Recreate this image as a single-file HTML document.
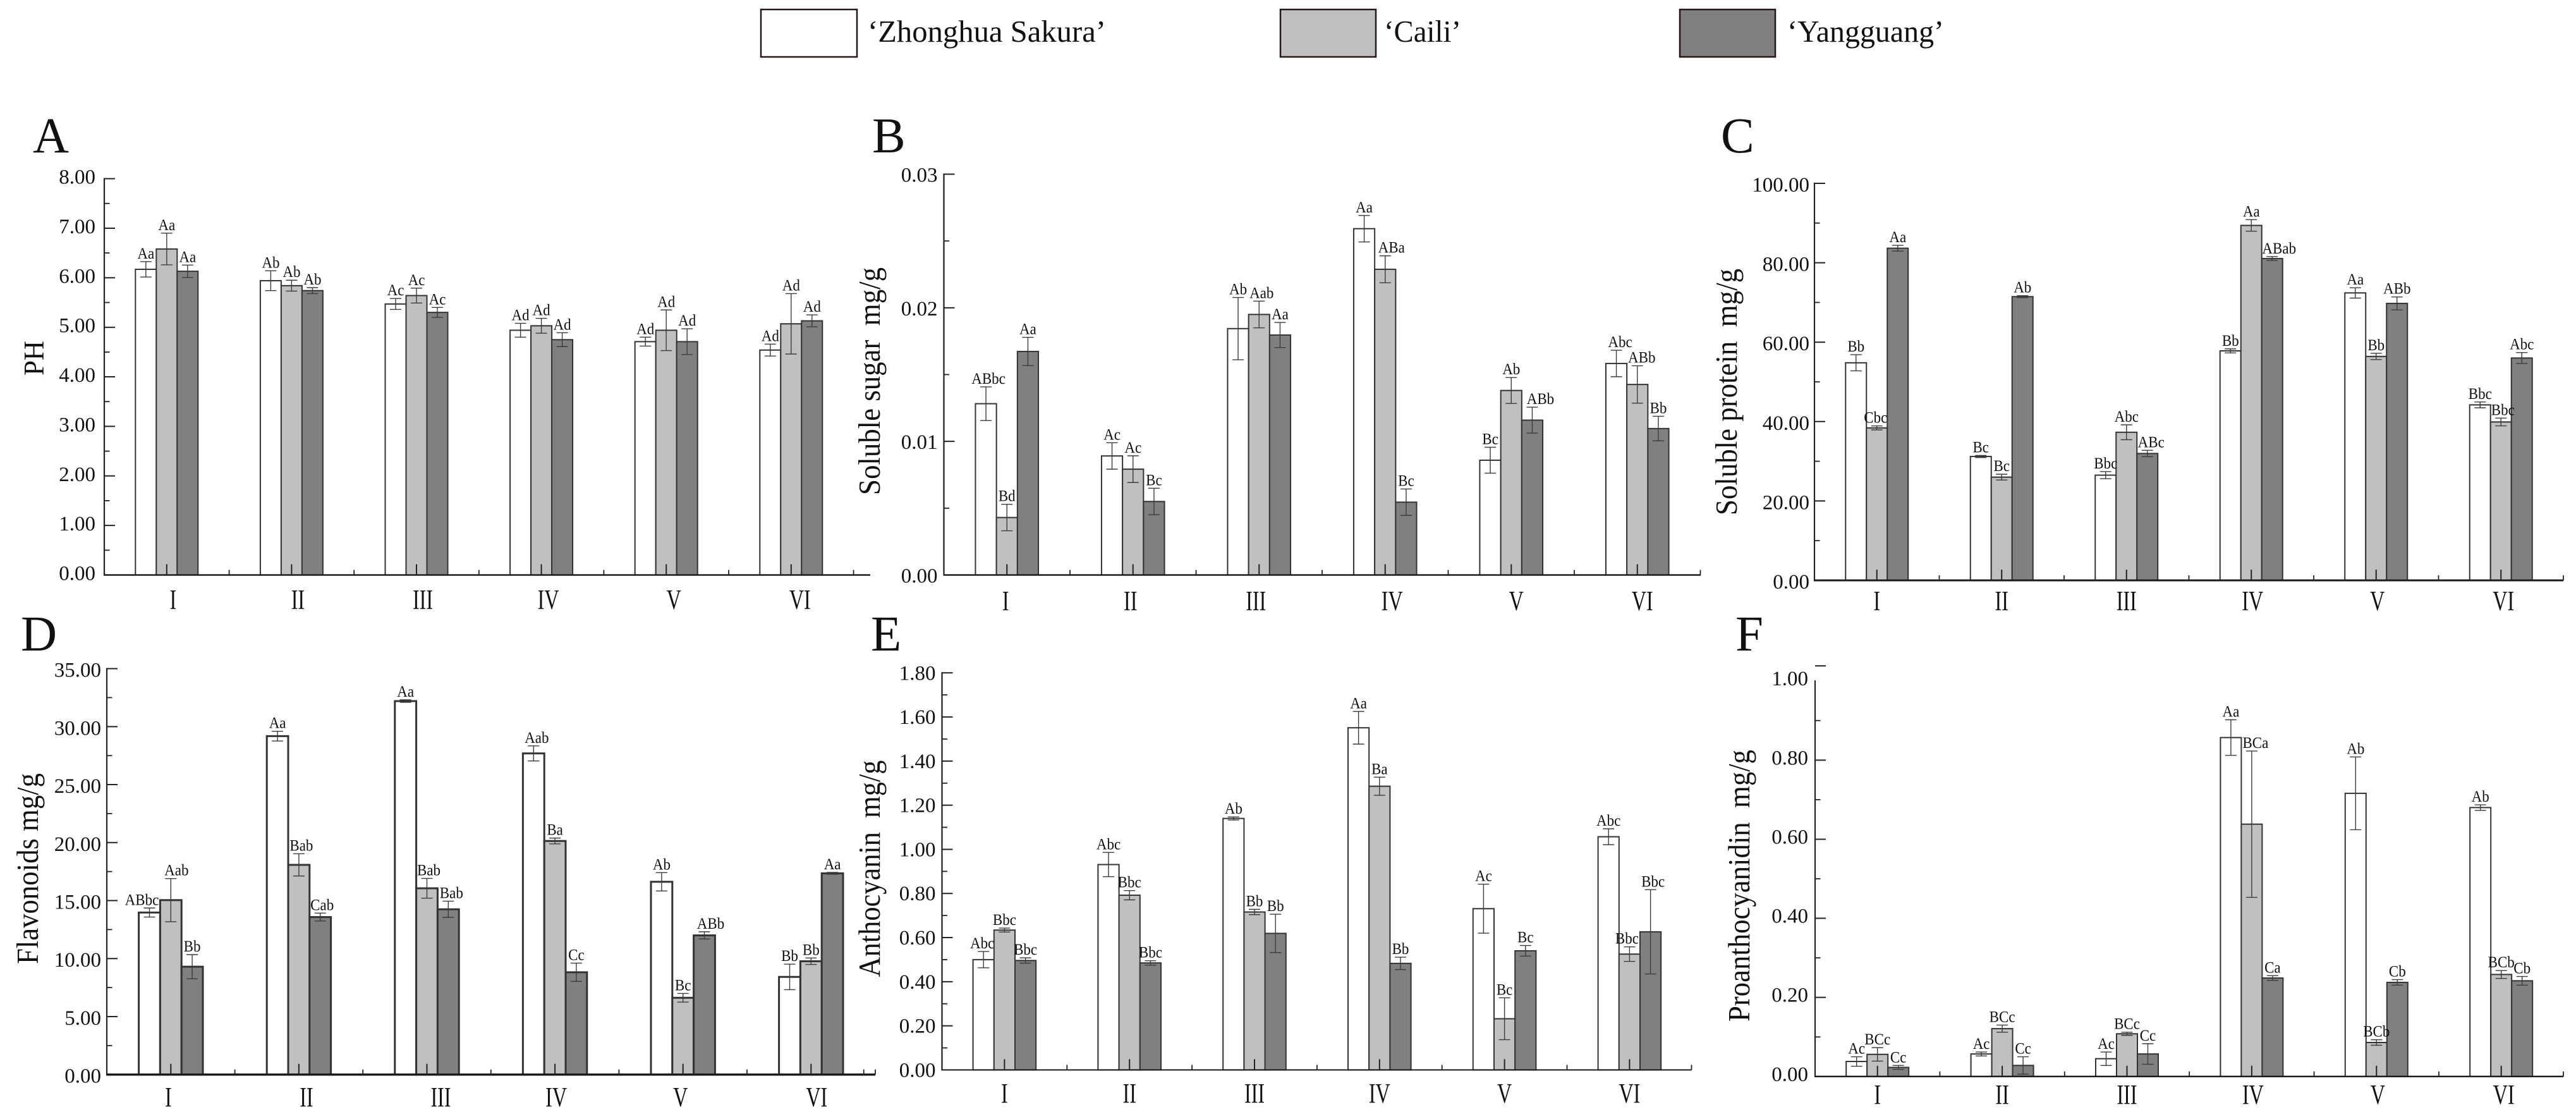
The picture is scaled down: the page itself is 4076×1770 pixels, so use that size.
<!DOCTYPE html>
<html lang="en">
<head>
<meta charset="utf-8">
<title>Fruit quality indices of three cultivars across stages I–VI</title>
<style>
html,body{margin:0;padding:0;background:#fff;}
svg{display:block;font-family:"Liberation Serif","Times New Roman",serif;}
text{fill:#111;}
</style>
</head>
<body>
<svg id="figure" xmlns="http://www.w3.org/2000/svg" width="4076" height="1770" viewBox="0 0 4076 1770">
  <rect x="0" y="0" width="4076" height="1770" fill="#ffffff"/>
  <g>
    <g>
      <rect x="1204" y="15" width="152" height="75" fill="#ffffff" stroke="#231815" stroke-width="2.5"/>
      <text x="1373" y="66" font-size="49" textLength="377" lengthAdjust="spacingAndGlyphs">‘Zhonghua Sakura’</text>
    </g>
    <g>
      <rect x="2026" y="15" width="151" height="75" fill="#c0c0c0" stroke="#231815" stroke-width="2.5"/>
      <text x="2190" y="66" font-size="49" textLength="122" lengthAdjust="spacingAndGlyphs">‘Caili’</text>
    </g>
    <g>
      <rect x="2658" y="15" width="151" height="75" fill="#808080" stroke="#231815" stroke-width="2.5"/>
      <text x="2828" y="66" font-size="49" textLength="248" lengthAdjust="spacingAndGlyphs">‘Yangguang’</text>
    </g>
  </g>
  <text x="52" y="241" font-size="79">A</text>
  <text x="1380" y="241" font-size="79">B</text>
  <text x="2723" y="241" font-size="79">C</text>
  <text x="33" y="1029" font-size="79">D</text>
  <text x="1378" y="1029" font-size="79">E</text>
  <text x="2746" y="1029" font-size="79">F</text>

  <text transform="translate(69,566.5) rotate(-90)" text-anchor="middle" font-size="45" textLength="55" lengthAdjust="spacingAndGlyphs">PH</text>
  <text transform="translate(1392,603) rotate(-90)" text-anchor="middle" font-size="49" textLength="360" lengthAdjust="spacingAndGlyphs" xml:space="preserve">Soluble sugar  mg/g</text>
  <text transform="translate(2748,620) rotate(-90)" text-anchor="middle" font-size="49" textLength="390" lengthAdjust="spacingAndGlyphs" xml:space="preserve">Soluble protein  mg/g</text>
  <text transform="translate(60,1374) rotate(-90)" text-anchor="middle" font-size="49" textLength="302" lengthAdjust="spacingAndGlyphs">Flavonoids mg/g</text>
  <text transform="translate(1392,1374) rotate(-90)" text-anchor="middle" font-size="49" textLength="343" lengthAdjust="spacingAndGlyphs" xml:space="preserve">Anthocyanin  mg/g</text>
  <text transform="translate(2768,1401) rotate(-90)" text-anchor="middle" font-size="49" textLength="430" lengthAdjust="spacingAndGlyphs" xml:space="preserve">Proanthocyanidin  mg/g</text>
</svg>

<script>
// ---------- shared data ----------
const categories = ['I', 'II', 'III', 'IV', 'V', 'VI'];
const seriesNames = ['zhonghua-sakura', 'caili', 'yangguang'];
const seriesFills = ['#ffffff', '#c0c0c0', '#808080'];

// ---------- A: PH ----------
const phTicks = ['0.00', '1.00', '2.00', '3.00', '4.00', '5.00', '6.00', '7.00', '8.00'];
const phZhonghua = [6.17, 5.94, 5.47, 4.94, 4.71, 4.54];
const phCaili = [6.58, 5.84, 5.64, 5.03, 4.94, 5.07];
const phYangguang = [6.13, 5.74, 5.30, 4.75, 4.71, 5.13];
const phZhonghuaErr = [0.156, 0.20, 0.11, 0.14, 0.09, 0.12];
const phCailiErr = [0.32, 0.11, 0.15, 0.15, 0.41, 0.61];
const phYangguangErr = [0.125, 0.06, 0.10, 0.14, 0.26, 0.12];
const phLetters = ['Aa', 'Aa', 'Aa', 'Ab', 'Ab', 'Ab', 'Ac', 'Ac', 'Ac', 'Ad', 'Ad', 'Ad', 'Ad', 'Ad', 'Ad', 'Ad', 'Ad', 'Ad'];

// ---------- B: soluble sugar ----------
const sugarTicks = ['0.00', '0.01', '0.02', '0.03'];
const sugarZhonghua = [0.01282, 0.00891, 0.01844, 0.02592, 0.00859, 0.01583];
const sugarCaili = [0.00430, 0.00792, 0.01950, 0.02288, 0.01381, 0.01426];
const sugarYangguang = [0.01673, 0.00550, 0.01796, 0.00545, 0.01159, 0.01096];
const sugarZhonghuaErr = [0.00126, 0.00099, 0.00233, 0.00099, 0.00097, 0.00099];
const sugarCailiErr = [0.00099, 0.00100, 0.00100, 0.00101, 0.00097, 0.00140];
const sugarYangguangErr = [0.00106, 0.00099, 0.00094, 0.00099, 0.00097, 0.00092];
const sugarLetters = ['ABbc', 'Bd', 'Aa', 'Ac', 'Ac', 'Bc', 'Ab', 'Aab', 'Aa', 'Aa', 'ABa', 'Bc', 'Bc', 'Ab', 'ABb', 'Abc', 'ABb', 'Bb'];

// ---------- C: soluble protein ----------
const proteinTicks = ['0.00', '20.00', '40.00', '60.00', '80.00', '100.00'];
const proteinZhonghua = [54.8, 31.2, 26.5, 57.8, 72.4, 44.2];
const proteinCaili = [38.4, 26.0, 37.3, 89.4, 56.4, 39.9];
const proteinYangguang = [83.66, 71.46, 31.95, 81.06, 69.76, 56.0];
const proteinZhonghuaErr = [2.03, 0.25, 0.9, 0.5, 1.3, 0.73];
const proteinCailiErr = [0.5, 0.73, 1.87, 1.46, 0.8, 0.98];
const proteinYangguangErr = [0.73, 0.25, 0.8, 0.5, 1.63, 1.38];
const proteinLetters = ['Bb', 'Cbc', 'Aa', 'Bc', 'Bc', 'Ab', 'Bbc', 'Abc', 'ABc', 'Bb', 'Aa', 'ABab', 'Aa', 'Bb', 'ABb', 'Bbc', 'Bbc', 'Abc'];

// ---------- D: flavonoids ----------
const flavonoidTicks = ['0.00', '5.00', '10.00', '15.00', '20.00', '25.00', '30.00', '35.00'];
const flavonoidZhonghua = [13.97, 29.18, 32.2, 27.69, 16.62, 8.42];
const flavonoidCaili = [15.04, 18.08, 16.06, 20.14, 6.62, 9.77];
const flavonoidYangguang = [9.3, 13.58, 14.25, 8.82, 12.0, 17.35];
const flavonoidZhonghuaErr = [0.39, 0.42, 0.11, 0.65, 0.79, 1.1];
const flavonoidCailiErr = [1.86, 0.96, 0.85, 0.25, 0.37, 0.28];
const flavonoidYangguangErr = [1.04, 0.34, 0.7, 0.79, 0.31, 0.08];
const flavonoidLetters = ['ABbc', 'Aab', 'Bb', 'Aa', 'Bab', 'Cab', 'Aa', 'Bab', 'Bab', 'Aab', 'Ba', 'Cc', 'Ab', 'Bc', 'ABb', 'Bb', 'Bb', 'Aa'];

// ---------- E: anthocyanin ----------
const anthocyaninTicks = ['0.00', '0.20', '0.40', '0.60', '0.80', '1.00', '1.20', '1.40', '1.60', '1.80'];
const anthocyaninZhonghua = [0.50, 0.931, 1.14, 1.551, 0.731, 1.057];
const anthocyaninCaili = [0.634, 0.792, 0.716, 1.286, 0.232, 0.525];
const anthocyaninYangguang = [0.496, 0.485, 0.619, 0.483, 0.54, 0.626];
const anthocyaninZhonghuaErr = [0.037, 0.055, 0.007, 0.074, 0.111, 0.036];
const anthocyaninCailiErr = [0.009, 0.021, 0.012, 0.041, 0.095, 0.033];
const anthocyaninYangguangErr = [0.012, 0.01, 0.087, 0.028, 0.024, 0.191];
const anthocyaninLetters = ['Abc', 'Bbc', 'Bbc', 'Abc', 'Bbc', 'Bbc', 'Ab', 'Bb', 'Bb', 'Aa', 'Ba', 'Bb', 'Ac', 'Bc', 'Bc', 'Abc', 'Bbc', 'Bbc'];

// ---------- F: proanthocyanidin ----------
const proanthoTicks = ['0.00', '0.20', '0.40', '0.60', '0.80', '1.00'];
const proanthoZhonghua = [0.038, 0.057, 0.045, 0.857, 0.716, 0.68];
const proanthoCaili = [0.056, 0.121, 0.108, 0.638, 0.086, 0.258];
const proanthoYangguang = [0.023, 0.028, 0.057, 0.249, 0.238, 0.242];
const proanthoZhonghuaErr = [0.012, 0.005, 0.017, 0.045, 0.092, 0.007];
const proanthoCailiErr = [0.017, 0.009, 0.004, 0.185, 0.007, 0.01];
const proanthoYangguangErr = [0.005, 0.022, 0.026, 0.006, 0.007, 0.011];
const proanthoLetters = ['Ac', 'BCc', 'Cc', 'Ac', 'BCc', 'Cc', 'Ac', 'BCc', 'Cc', 'Aa', 'BCa', 'Ca', 'Ab', 'BCb', 'Cb', 'Ab', 'BCb', 'Cb'];

// ---------- layout of each panel (no data values here) ----------
const panels = [
  { id: 'a', values: [phZhonghua, phCaili, phYangguang], errs: [phZhonghuaErr, phCailiErr, phYangguangErr], letters: phLetters, ticks: phTicks,
    xAxis: 165, xEnd: 1377, lastTick: 1350.6, halfStep: 98.8, barW: 33, yBase: 909.5, yTop: 282.6, tickGap: 14, tickDy: -3, axisW: 2.5, barStroke: 2,
    catBase: 963, catShift: [10, 10, 10, 11, 12, 14], nudge: {} },
  { id: 'b', values: [sugarZhonghua, sugarCaili, sugarYangguang], errs: [sugarZhonghuaErr, sugarCailiErr, sugarYangguangErr], letters: sugarLetters, ticks: sugarTicks,
    xAxis: 1493.5, xEnd: 2691, lastTick: 2690.5, halfStep: 99.75, barW: 33.2, yBase: 909.5, yTop: 275.5, tickGap: 10, tickDy: 1, axisW: 2.5, barStroke: 2,
    catBase: 965, catShift: [-2, -4, -5, 11, 8, 8], nudge: { 0: 4, 10: 10, 14: 13, 15: 6, 16: 7, 7: 4 } },
  { id: 'c', values: [proteinZhonghua, proteinCaili, proteinYangguang], errs: [proteinZhonghuaErr, proteinCailiErr, proteinYangguangErr], letters: proteinLetters, ticks: proteinTicks,
    xAxis: 2871, xEnd: 4056, lastTick: 4056, halfStep: 98.75, barW: 33, yBase: 918, yTop: 290, tickGap: 8, tickDy: 2, axisW: 3, barStroke: 2,
    catBase: 965, catShift: [0, 0, 0, 2, 2, 4], nudge: { 1: -2, 8: 6, 11: 11, 16: 3 } },
  { id: 'd', values: [flavonoidZhonghua, flavonoidCaili, flavonoidYangguang], errs: [flavonoidZhonghuaErr, flavonoidCailiErr, flavonoidYangguangErr], letters: flavonoidLetters, ticks: flavonoidTicks,
    xAxis: 169, xEnd: 1385, lastTick: 1385, halfStep: 101.3, barW: 33.8, yBase: 1699.7, yTop: 1057.6, tickGap: 9, tickDy: 2, axisW: 3.5, barStroke: 3,
    catBase: 1750, catShift: [-4, 12, 22, 2, -4, 9], nudge: { 0: -12, 1: 9, 4: 4, 5: 3, 7: 3, 8: 5, 9: 5, 14: 10 }, extraTick: 1366.7 },
  { id: 'e', values: [anthocyaninZhonghua, anthocyaninCaili, anthocyaninYangguang], errs: [anthocyaninZhonghuaErr, anthocyaninCailiErr, anthocyaninYangguangErr], letters: anthocyaninLetters, ticks: anthocyaninTicks,
    xAxis: 1490.5, xEnd: 2676.5, lastTick: 2676.5, halfStep: 98.9, barW: 33.2, yBase: 1692.4, yTop: 1064.3, tickGap: 10, tickDy: 0, axisW: 2, barStroke: 2,
    catBase: 1744, catShift: [0, 0, 0, 0, 0, 0], nudge: { 0: -2, 15: 0, 16: -4, 17: 4 } },
  { id: 'f', values: [proanthoZhonghua, proanthoCaili, proanthoYangguang], errs: [proanthoZhonghuaErr, proanthoCailiErr, proanthoYangguangErr], letters: proanthoLetters, ticks: proanthoTicks,
    xAxis: 2872, xEnd: 4056, lastTick: 4056, halfStep: 98.7, barW: 33, yBase: 1702.8, yTop: 1077.2, tickGap: 11, tickDy: -4, axisW: 2.5, barStroke: 2,
    catBase: 1746, catShift: [0, 0, 0, 2, 2, 4], nudge: { 10: 6 }, topTickLift: 24 }
];

const NS = 'http://www.w3.org/2000/svg';
const svgRoot = document.getElementById('figure');

function make(tag, parent, attrs) {
  const node = document.createElementNS(NS, tag);
  for (const key in attrs) node.setAttribute(key, attrs[key]);
  parent.appendChild(node);
  return node;
}

function drawPanel(p) {
  const maxValue = parseFloat(p.ticks[p.ticks.length - 1]);
  const yScale = v => p.yBase - (v / maxValue) * (p.yBase - p.yTop);
  const groupCenter = g => p.xAxis + p.halfStep * (2 * g + 1);

  const group = make('g', svgRoot, {});
  
  

  // bars
  categories.forEach((cat, g) => {
    seriesNames.forEach((name, s) => {
      const v = p.values[s][g];
      const top = yScale(v);
      const bar = make('rect', group, {
        x: groupCenter(g) - 1.5 * p.barW + s * p.barW,
        y: top,
        width: p.barW,
        height: p.yBase - top,
        fill: seriesFills[s],
        stroke: '#333',
        'stroke-width': p.barStroke
      });
      
      
    });
  });

  // error bars and significance letters
  categories.forEach((cat, g) => {
    seriesNames.forEach((name, s) => {
      const v = p.values[s][g];
      const e = p.errs[s][g];
      const cx = groupCenter(g) - p.barW + s * p.barW;
      const hi = yScale(v + e);
      const lo = yScale(v - e);
      const err = make('path', group, {
        d: 'M' + cx + ' ' + hi + 'V' + lo + 'M' + (cx - 9) + ' ' + hi + 'H' + (cx + 9) + 'M' + (cx - 9) + ' ' + lo + 'H' + (cx + 9),
        fill: 'none',
        stroke: '#3c3c3c',
        'stroke-width': 1.4
      });
      
      

      const idx = g * 3 + s;
      const label = make('text', group, {
        transform: 'translate(' + (cx + (p.nudge[idx] || 0)) + ',' + (hi - 5) + ') scale(0.92,1)',
        'text-anchor': 'middle',
        'font-size': 25
      });
      label.textContent = p.letters[idx];
      
      
    });
  });

  // y axis line
  const yLine = make('line', group, { x1: p.xAxis, x2: p.xAxis, y1: p.yTop - 1, y2: p.yBase, stroke: '#222', 'stroke-width': 2.2 });
  
  

  // y ticks (major with labels, minor halfway)
  p.ticks.forEach((text, i) => {
    const v = parseFloat(text);
    const isTop = i === p.ticks.length - 1;
    const y = yScale(v);
    const tickY = isTop && p.topTickLift ? y - p.topTickLift : y;
    if (i > 0) {
      const major = make('line', group, { x1: p.xAxis, x2: p.xAxis + 17, y1: tickY, y2: tickY, stroke: '#222', 'stroke-width': 2 });
      
      
    }
    const lab = make('text', group, {
      x: p.xAxis - p.tickGap,
      y: y + 11 + p.tickDy,
      'text-anchor': 'end',
      'font-size': 33
    });
    lab.textContent = text;
    
    
    if (i > 0) {
      const mid = (y + yScale(parseFloat(p.ticks[i - 1]))) / 2;
      const minor = make('line', group, { x1: p.xAxis, x2: p.xAxis + 8.5, y1: mid, y2: mid, stroke: '#222', 'stroke-width': 1.8 });
      
      
    }
  });

  // x axis line
  const xLine = make('line', group, { x1: p.xAxis - 1, x2: p.xEnd, y1: p.yBase, y2: p.yBase, stroke: '#1c1c1c', 'stroke-width': p.axisW });
  
  

  // x ticks: long at each group centre, short between groups
  categories.forEach((cat, g) => {
    const c = groupCenter(g);
    const major = make('line', group, { x1: c, x2: c, y1: p.yBase, y2: p.yBase - 17, stroke: '#222', 'stroke-width': 2 });
    
    

    const sep = g === categories.length - 1 ? p.lastTick : c + p.halfStep;
    const minor = make('line', group, { x1: sep, x2: sep, y1: p.yBase, y2: p.yBase - 8, stroke: '#222', 'stroke-width': 1.8 });
    
    

    const catLabel = make('text', group, {
      transform: 'translate(' + (c + p.catShift[g]) + ',' + p.catBase + ') scale(0.73,1)',
      'text-anchor': 'middle',
      'font-size': 44
    });
    catLabel.textContent = cat;
    
    
  });

  if (p.extraTick) {
    const extra = make('line', group, { x1: p.extraTick, x2: p.extraTick, y1: p.yBase, y2: p.yBase - 8, stroke: '#222', 'stroke-width': 1.8 });
    
    
  }
}

panels.forEach(drawPanel);
</script>
</body>
</html>
